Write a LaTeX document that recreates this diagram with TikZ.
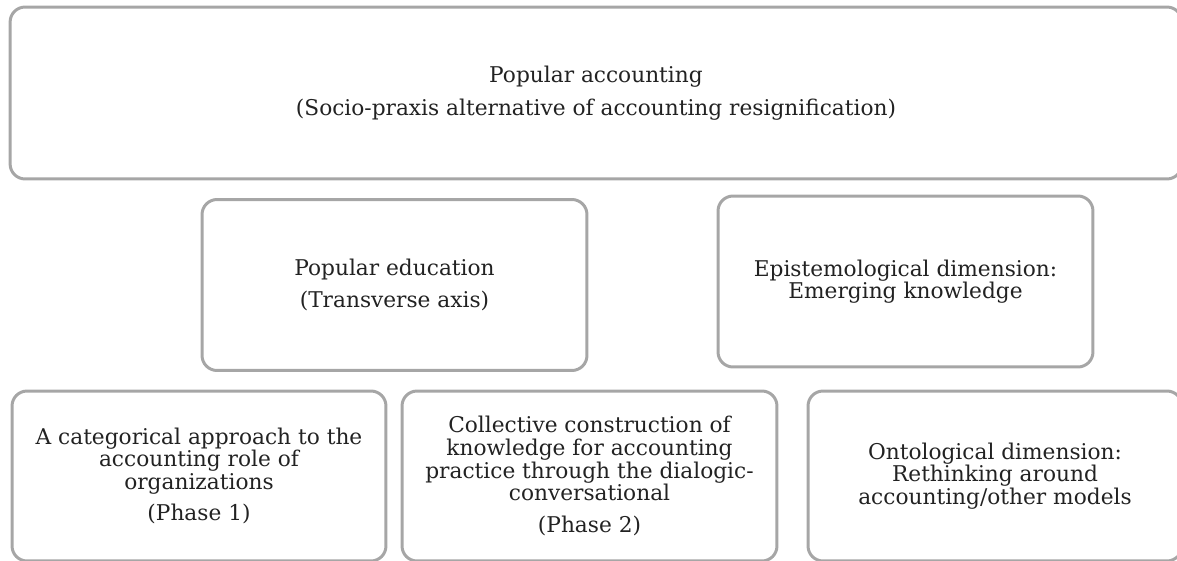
\documentclass[tikz,border=0pt]{standalone}
\usepackage{fontspec}
\setmainfont{DejaVu Serif}
\usetikzlibrary{positioning}
\definecolor{boxgray}{HTML}{A6A6A6}
\definecolor{textgray}{HTML}{222222}

\begin{document}
\begin{tikzpicture}
	[x=0.02cm, y=-0.02cm,
	 box/.style={draw=boxgray, line width=1.7pt, rounded corners=0.3cm,
	   align=center, text=textgray, inner sep=0pt,
	   font=\fontsize{12.35}{12.9}\selectfont}]
   \useasboundingbox (0,0) rectangle (1177,561);
   \node[box, minimum width=23.44cm, minimum height=3.44cm] (acct) at (596,93)
     {Popular accounting\\[5.6pt](Socio-praxis alternative of accounting resignification)};
   \node[box, minimum width=7.7cm, minimum height=3.42cm] (educ) at (394.5,285)
     {Popular education\\[5.6pt](Transverse axis)};
   \node[box, minimum width=7.5cm, minimum height=3.42cm] (epist) at (905.5,281.5)
     {Epistemological dimension:\\Emerging knowledge};
   \node[box, minimum width=7.48cm, minimum height=3.4cm] (phase1) at (199,476)
     {A categorical approach to the\\accounting role of\\organizations\\[5pt](Phase 1)};
   \node[box, minimum width=7.5cm, minimum height=3.4cm] (phase2) at (589.5,476)
     {Collective construction of\\knowledge for accounting\\practice through the dialogic-\\conversational\\[5pt](Phase 2)};
   \node[box, minimum width=7.48cm, minimum height=3.4cm] (onto) at (995,476)
     {Ontological dimension:\\Rethinking around\\accounting/other models};
\end{tikzpicture}
\end{document}
